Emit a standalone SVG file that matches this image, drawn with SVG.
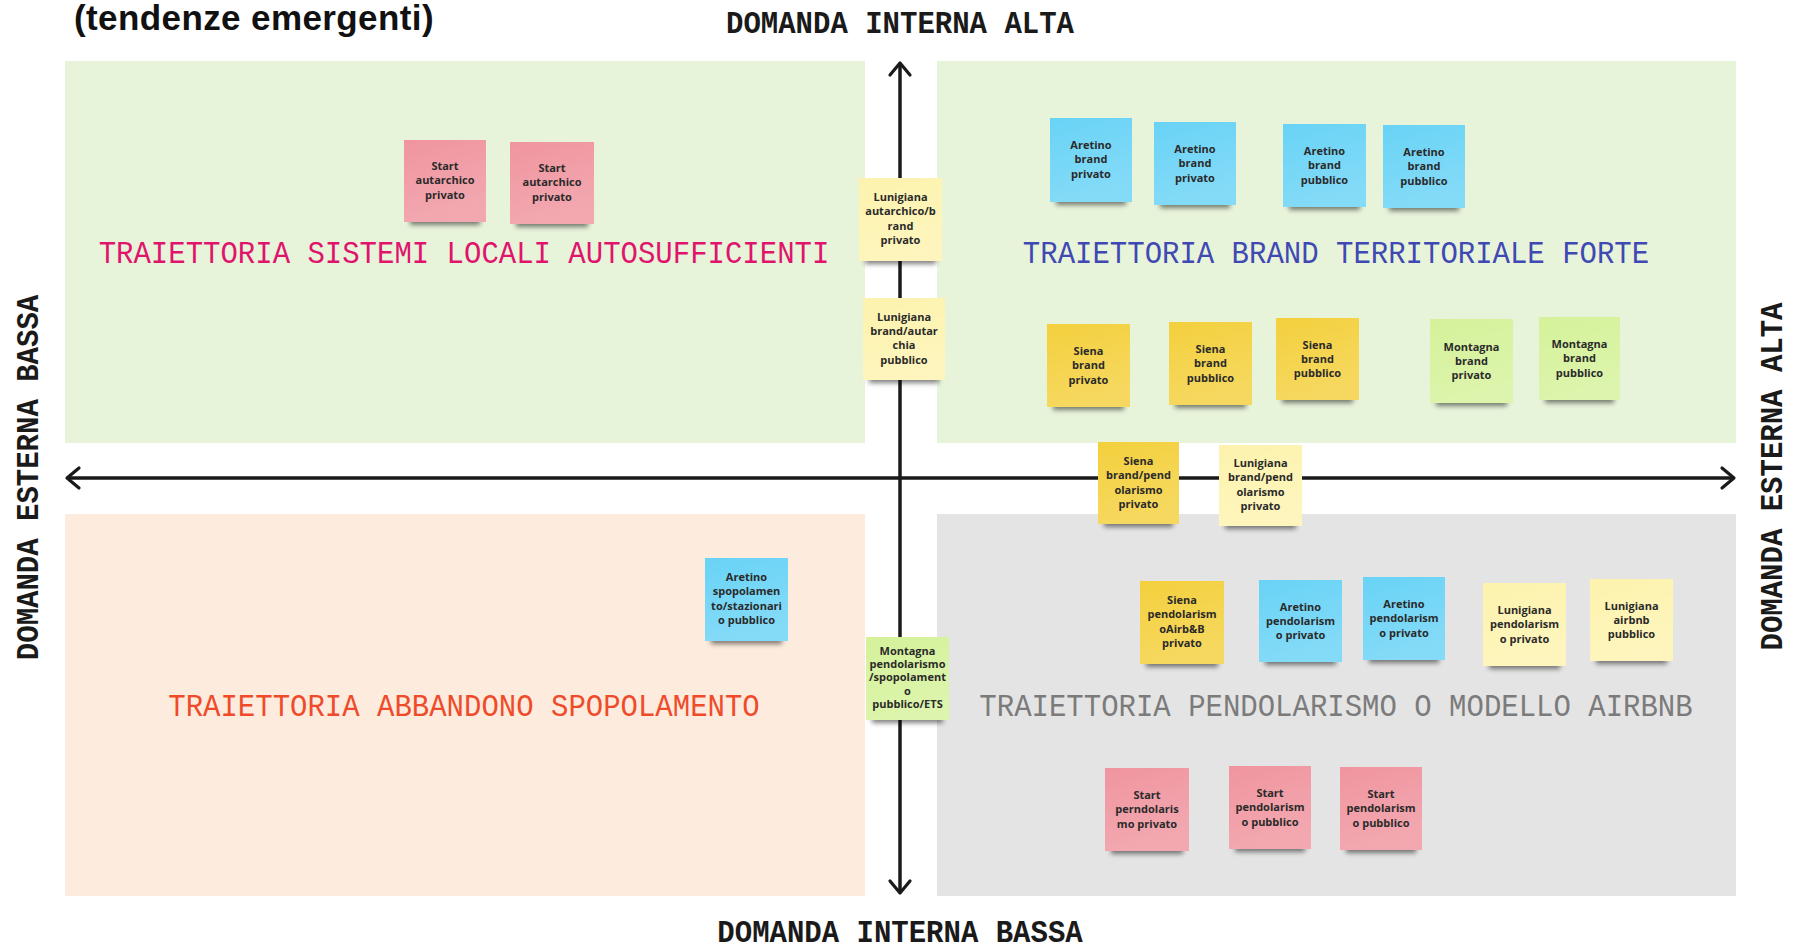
<svg xmlns="http://www.w3.org/2000/svg" width="1793" height="950" viewBox="0 0 1793 950">
<style>
.title{font-family:"Liberation Sans",Arial,sans-serif;font-weight:700;font-size:35px;fill:#111;letter-spacing:0.4px}
.axl{font-family:"Liberation Mono","DejaVu Sans Mono",monospace;font-weight:700;font-size:29px;fill:#1a1a1a;text-anchor:middle}
.ql{font-family:"Liberation Mono","DejaVu Sans Mono",monospace;font-size:29px;text-anchor:middle}
.nt{font-family:"Open Sans","Liberation Sans",sans-serif;font-weight:700;font-size:11px;fill:#2a2a2a;text-anchor:middle}
.pink{fill:#F0959F}.blue{fill:#69D3F6}.yo{fill:#F4D03C}.ly{fill:#FDF3AE}.lg{fill:#D5F29A}
.ax{stroke:#1a1a1a;stroke-width:3.5;fill:none;marker-start:url(#chev);marker-end:url(#chev)}
</style>
<defs>
<filter id="sh" x="-20%" y="-20%" width="140%" height="150%">
<feMorphology in="SourceAlpha" operator="erode" radius="6" result="e"/>
<feOffset in="e" dy="9" result="o"/>
<feGaussianBlur in="o" stdDeviation="2.5" result="b"/>
<feComponentTransfer in="b" result="c"><feFuncA type="linear" slope="0.5"/></feComponentTransfer>
<feMerge><feMergeNode in="c"/><feMergeNode in="SourceGraphic"/></feMerge>
</filter>
<linearGradient id="gl" x1="0" y1="0" x2="0.3" y2="1">
<stop offset="0" stop-color="#fff" stop-opacity="0"/>
<stop offset="1" stop-color="#fff" stop-opacity="0.18"/>
</linearGradient>
<marker id="chev" markerUnits="userSpaceOnUse" markerWidth="20" markerHeight="26" viewBox="0 0 20 26" refX="15" refY="13" orient="auto-start-reverse">
<path d="M3,3 L15,13 L3,23" fill="none" stroke="#1a1a1a" stroke-width="3.2" stroke-linecap="round" stroke-linejoin="round"/>
</marker>
</defs>
<rect width="1793" height="950" fill="#fff"/>

<g id="quadrants">
<rect id="q-tl" x="65" y="61" width="800" height="382" fill="#E7F4DA"/>
<rect id="q-tr" x="937" y="61" width="799" height="382" fill="#E7F4DA"/>
<rect id="q-bl" x="65" y="514" width="800" height="382" fill="#FDEBDD"/>
<rect id="q-br" x="937" y="514" width="799" height="382" fill="#E4E4E4"/>
</g>

<text id="title" class="title" x="74" y="30">(tendenze emergenti)</text>

<g id="connectors">
<line class="ax" x1="67" y1="478" x2="1734" y2="478"/>
<line class="ax" x1="900" y1="63" x2="900" y2="893"/>
</g>

<g id="axis-labels">
<text class="axl" transform="translate(900 33) scale(1 1.08)">DOMANDA INTERNA ALTA</text>
<text class="axl" transform="translate(900 942) scale(1 1.08)">DOMANDA INTERNA BASSA</text>
<text class="axl" transform="translate(38 477.5) rotate(-90) scale(1 1.08)">DOMANDA ESTERNA BASSA</text>
<text class="axl" transform="translate(1782 476.5) rotate(-90) scale(1 1.08)">DOMANDA ESTERNA ALTA</text>
</g>

<g id="quadrant-labels">
<text class="ql" transform="translate(464 263) scale(1 1.08)" fill="#E0146C">TRAIETTORIA SISTEMI LOCALI AUTOSUFFICIENTI</text>
<text class="ql" transform="translate(1336 263) scale(1 1.08)" fill="#3F48B3">TRAIETTORIA BRAND TERRITORIALE FORTE</text>
<text class="ql" transform="translate(464 716) scale(1 1.08)" fill="#EF4B2B">TRAIETTORIA ABBANDONO SPOPOLAMENTO</text>
<text class="ql" transform="translate(1336 716) scale(1 1.08)" fill="#7B7B7B">TRAIETTORIA PENDOLARISMO O MODELLO AIRBNB</text>
</g>

<g id="n1"><rect class="pink" x="404" y="140" width="82" height="82" filter="url(#sh)"/><rect x="404" y="140" width="82" height="82" fill="url(#gl)"/><text class="nt" x="445" y="170">Start</text><text class="nt" x="445" y="184.4">autarchico</text><text class="nt" x="445" y="198.8">privato</text></g>
<g id="n2"><rect class="pink" x="510" y="142" width="84" height="82" filter="url(#sh)"/><rect x="510" y="142" width="84" height="82" fill="url(#gl)"/><text class="nt" x="552" y="172">Start</text><text class="nt" x="552" y="186.4">autarchico</text><text class="nt" x="552" y="200.8">privato</text></g>
<g id="n3"><rect class="ly" x="859" y="178" width="83" height="83" filter="url(#sh)"/><rect x="859" y="178" width="83" height="83" fill="url(#gl)"/><text class="nt" x="900.5" y="201">Lunigiana</text><text class="nt" x="900.5" y="215.4">autarchico/b</text><text class="nt" x="900.5" y="229.8">rand</text><text class="nt" x="900.5" y="244.2">privato</text></g>
<g id="n4"><rect class="ly" x="863" y="298" width="82" height="82" filter="url(#sh)"/><rect x="863" y="298" width="82" height="82" fill="url(#gl)"/><text class="nt" x="904" y="320.5">Lunigiana</text><text class="nt" x="904" y="334.9">brand/autar</text><text class="nt" x="904" y="349.3">chia</text><text class="nt" x="904" y="363.7">pubblico</text></g>
<g id="n5"><rect class="blue" x="1050" y="118" width="82" height="84" filter="url(#sh)"/><rect x="1050" y="118" width="82" height="84" fill="url(#gl)"/><text class="nt" x="1091" y="149">Aretino</text><text class="nt" x="1091" y="163.4">brand</text><text class="nt" x="1091" y="177.8">privato</text></g>
<g id="n6"><rect class="blue" x="1154" y="122" width="82" height="83" filter="url(#sh)"/><rect x="1154" y="122" width="82" height="83" fill="url(#gl)"/><text class="nt" x="1195" y="153">Aretino</text><text class="nt" x="1195" y="167.4">brand</text><text class="nt" x="1195" y="181.8">privato</text></g>
<g id="n7"><rect class="blue" x="1283" y="124" width="83" height="83" filter="url(#sh)"/><rect x="1283" y="124" width="83" height="83" fill="url(#gl)"/><text class="nt" x="1324.5" y="155">Aretino</text><text class="nt" x="1324.5" y="169.4">brand</text><text class="nt" x="1324.5" y="183.8">pubblico</text></g>
<g id="n8"><rect class="blue" x="1383" y="125" width="82" height="83" filter="url(#sh)"/><rect x="1383" y="125" width="82" height="83" fill="url(#gl)"/><text class="nt" x="1424" y="156">Aretino</text><text class="nt" x="1424" y="170.4">brand</text><text class="nt" x="1424" y="184.8">pubblico</text></g>
<g id="n9"><rect class="yo" x="1047" y="324" width="83" height="83" filter="url(#sh)"/><rect x="1047" y="324" width="83" height="83" fill="url(#gl)"/><text class="nt" x="1088.5" y="355">Siena</text><text class="nt" x="1088.5" y="369.4">brand</text><text class="nt" x="1088.5" y="383.8">privato</text></g>
<g id="n10"><rect class="yo" x="1169" y="322" width="83" height="83" filter="url(#sh)"/><rect x="1169" y="322" width="83" height="83" fill="url(#gl)"/><text class="nt" x="1210.5" y="353">Siena</text><text class="nt" x="1210.5" y="367.4">brand</text><text class="nt" x="1210.5" y="381.8">pubblico</text></g>
<g id="n11"><rect class="yo" x="1276" y="318" width="83" height="82" filter="url(#sh)"/><rect x="1276" y="318" width="83" height="82" fill="url(#gl)"/><text class="nt" x="1317.5" y="348.5">Siena</text><text class="nt" x="1317.5" y="362.9">brand</text><text class="nt" x="1317.5" y="377.3">pubblico</text></g>
<g id="n12"><rect class="lg" x="1430" y="319" width="83" height="84" filter="url(#sh)"/><rect x="1430" y="319" width="83" height="84" fill="url(#gl)"/><text class="nt" x="1471.5" y="350.5">Montagna</text><text class="nt" x="1471.5" y="364.9">brand</text><text class="nt" x="1471.5" y="379.3">privato</text></g>
<g id="n13"><rect class="lg" x="1539" y="317" width="81" height="83" filter="url(#sh)"/><rect x="1539" y="317" width="81" height="83" fill="url(#gl)"/><text class="nt" x="1579.5" y="348">Montagna</text><text class="nt" x="1579.5" y="362.4">brand</text><text class="nt" x="1579.5" y="376.8">pubblico</text></g>
<g id="n14"><rect class="yo" x="1098" y="442" width="81" height="82" filter="url(#sh)"/><rect x="1098" y="442" width="81" height="82" fill="url(#gl)"/><text class="nt" x="1138.5" y="465">Siena</text><text class="nt" x="1138.5" y="479.4">brand/pend</text><text class="nt" x="1138.5" y="493.8">olarismo</text><text class="nt" x="1138.5" y="508.2">privato</text></g>
<g id="n15"><rect class="ly" x="1219" y="445" width="83" height="81" filter="url(#sh)"/><rect x="1219" y="445" width="83" height="81" fill="url(#gl)"/><text class="nt" x="1260.5" y="467">Lunigiana</text><text class="nt" x="1260.5" y="481.4">brand/pend</text><text class="nt" x="1260.5" y="495.8">olarismo</text><text class="nt" x="1260.5" y="510.2">privato</text></g>
<g id="n16"><rect class="blue" x="705" y="558" width="83" height="83" filter="url(#sh)"/><rect x="705" y="558" width="83" height="83" fill="url(#gl)"/><text class="nt" x="746.5" y="581">Aretino</text><text class="nt" x="746.5" y="595.4">spopolamen</text><text class="nt" x="746.5" y="609.8">to/stazionari</text><text class="nt" x="746.5" y="624.2">o pubblico</text></g>
<g id="n17"><rect class="lg" x="866" y="637" width="83" height="83" filter="url(#sh)"/><rect x="866" y="637" width="83" height="83" fill="url(#gl)"/><text class="nt" x="907.5" y="654.5">Montagna</text><text class="nt" x="907.5" y="667.9">pendolarismo</text><text class="nt" x="907.5" y="681.3">/spopolament</text><text class="nt" x="907.5" y="694.7">o</text><text class="nt" x="907.5" y="708.1">pubblico/ETS</text></g>
<g id="n18"><rect class="yo" x="1140" y="581" width="84" height="83" filter="url(#sh)"/><rect x="1140" y="581" width="84" height="83" fill="url(#gl)"/><text class="nt" x="1182" y="604">Siena</text><text class="nt" x="1182" y="618.4">pendolarism</text><text class="nt" x="1182" y="632.8">oAirb&amp;B</text><text class="nt" x="1182" y="647.2">privato</text></g>
<g id="n19"><rect class="blue" x="1259" y="580" width="83" height="82" filter="url(#sh)"/><rect x="1259" y="580" width="83" height="82" fill="url(#gl)"/><text class="nt" x="1300.5" y="610.5">Aretino</text><text class="nt" x="1300.5" y="624.9">pendolarism</text><text class="nt" x="1300.5" y="639.3">o privato</text></g>
<g id="n20"><rect class="blue" x="1363" y="577" width="82" height="83" filter="url(#sh)"/><rect x="1363" y="577" width="82" height="83" fill="url(#gl)"/><text class="nt" x="1404" y="608">Aretino</text><text class="nt" x="1404" y="622.4">pendolarism</text><text class="nt" x="1404" y="636.8">o privato</text></g>
<g id="n21"><rect class="ly" x="1483" y="583" width="83" height="83" filter="url(#sh)"/><rect x="1483" y="583" width="83" height="83" fill="url(#gl)"/><text class="nt" x="1524.5" y="614">Lunigiana</text><text class="nt" x="1524.5" y="628.4">pendolarism</text><text class="nt" x="1524.5" y="642.8">o privato</text></g>
<g id="n22"><rect class="ly" x="1590" y="579" width="83" height="82" filter="url(#sh)"/><rect x="1590" y="579" width="83" height="82" fill="url(#gl)"/><text class="nt" x="1631.5" y="609.5">Lunigiana</text><text class="nt" x="1631.5" y="623.9">airbnb</text><text class="nt" x="1631.5" y="638.3">pubblico</text></g>
<g id="n23"><rect class="pink" x="1105" y="768" width="84" height="83" filter="url(#sh)"/><rect x="1105" y="768" width="84" height="83" fill="url(#gl)"/><text class="nt" x="1147" y="799">Start</text><text class="nt" x="1147" y="813.4">perndolaris</text><text class="nt" x="1147" y="827.8">mo privato</text></g>
<g id="n24"><rect class="pink" x="1229" y="766" width="82" height="83" filter="url(#sh)"/><rect x="1229" y="766" width="82" height="83" fill="url(#gl)"/><text class="nt" x="1270" y="797">Start</text><text class="nt" x="1270" y="811.4">pendolarism</text><text class="nt" x="1270" y="825.8">o pubblico</text></g>
<g id="n25"><rect class="pink" x="1340" y="767" width="82" height="83" filter="url(#sh)"/><rect x="1340" y="767" width="82" height="83" fill="url(#gl)"/><text class="nt" x="1381" y="798">Start</text><text class="nt" x="1381" y="812.4">pendolarism</text><text class="nt" x="1381" y="826.8">o pubblico</text></g>
</svg>
